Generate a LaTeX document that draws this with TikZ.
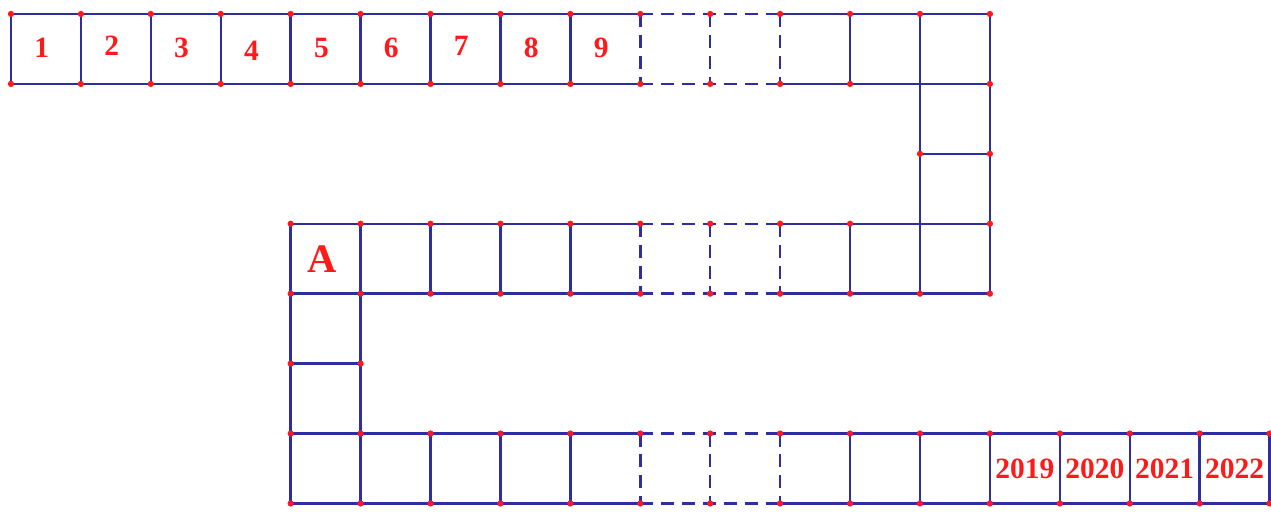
\documentclass[tikz,border=0pt]{standalone}
\usepackage{fontspec}
\setmainfont{Liberation Serif}
\definecolor{cnavy}{HTML}{2E2E9E}
\definecolor{cred}{HTML}{FF1A1A}
\tikzset{
  gl/.style={draw=cnavy, line width=1pt},
  dl/.style={gl, dash pattern=on 5.3pt off 3.2pt},
  num/.style={text=cred, font=\bfseries\fontsize{12}{12}\selectfont, inner sep=0pt},
  dot/.style={fill=cred},
}
\begin{document}
\begin{tikzpicture}
  \useasboundingbox (-0.157, 0.2) rectangle (18.02, -7.2);
  % solid edges of the strip
  \draw[gl] (0,0) -- (9,0) (11,0) -- (14,0) (0,-1) -- (9,-1) (11,-1) -- (14,-1)
    (13,-2) -- (14,-2)
    (4,-3) -- (9,-3) (11,-3) -- (14,-3) (4,-4) -- (9,-4) (11,-4) -- (14,-4)
    (4,-5) -- (5,-5)
    (4,-6) -- (9,-6) (11,-6) -- (18,-6) (4,-7) -- (9,-7) (11,-7) -- (18,-7);
  \foreach \x in {0,...,8,12} \draw[gl] (\x,0) -- (\x,-1);
  \foreach \x in {13,14} \draw[gl] (\x,0) -- (\x,-4);
  \foreach \x in {4,5} \draw[gl] (\x,-3) -- (\x,-7);
  \foreach \x in {6,7,8,12} \draw[gl] (\x,-3) -- (\x,-4);
  \foreach \x in {6,7,8,12,13,...,18} \draw[gl] (\x,-6) -- (\x,-7);
  % dashed gaps
  \foreach \y in {0,-1,-3,-4,-6,-7} \draw[dl] (9,\y) -- (11,\y);
  \foreach \y in {0,-3,-6} \foreach \x in {9,10,11} \draw[dl] (\x,\y) -- (\x,\y-1);
  % red points
  \foreach \x in {0,...,14} \fill[dot] (\x,0) circle (0.045);
  \foreach \x in {0,...,12,14} \fill[dot] (\x,-1) circle (0.045);
  \foreach \x in {13,14} \fill[dot] (\x,-2) circle (0.045);
  \foreach \x in {4,...,12,14} \fill[dot] (\x,-3) circle (0.045);
  \foreach \x in {4,...,14} \fill[dot] (\x,-4) circle (0.045);
  \foreach \x in {4,5} \fill[dot] (\x,-5) circle (0.045);
  \foreach \x in {4,...,18} \fill[dot] (\x,-6) circle (0.045) (\x,-7) circle (0.045);
  % labels
  \foreach \n/\dy in {1/0, 2/0.03, 3/0, 4/-0.03, 5/0, 6/0, 7/0.03, 8/0, 9/0}
    \node[num] (c\n) at (\n-0.56, -0.49+\dy) {\n};
  \node[num, font=\bfseries\fontsize{16.5}{16.5}\selectfont] (a) at (4.45,-3.5) {A};
  \foreach \yr [count=\i] in {2019,...,2022}
    \node[num] (y\yr) at (13.5+\i, -6.5) {\yr};
\end{tikzpicture}
\end{document}
